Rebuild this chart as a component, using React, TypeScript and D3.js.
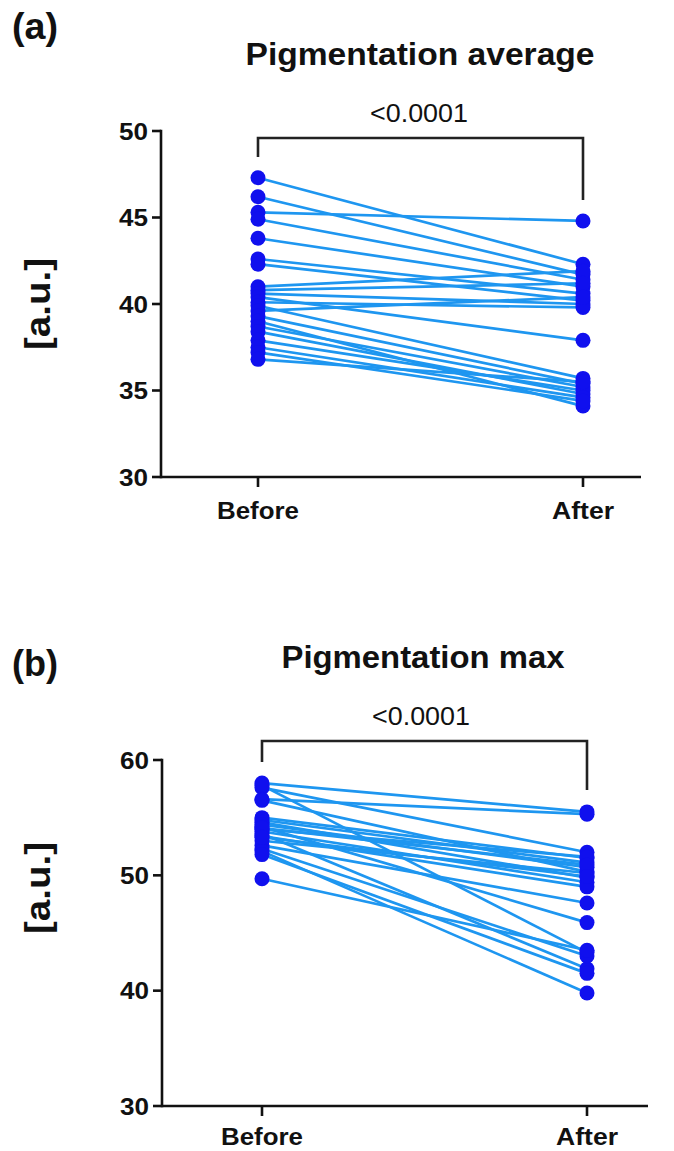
import React from "react";
import * as d3 from "d3";

// ---------- data ----------
const categories = ["Before", "After"];

const avgBefore = [47.3, 46.2, 45.3, 44.9, 43.8, 42.6, 42.3, 41.0, 40.8, 40.6, 40.4, 40.1, 39.9, 39.6, 39.3, 39.0, 38.7, 38.4, 37.9, 37.5, 37.2, 36.8];
const avgAfter = [42.3, 41.7, 44.8, 41.4, 41.0, 40.6, 40.2, 41.9, 41.2, 40.0, 37.9, 39.8, 35.7, 40.4, 35.4, 34.1, 35.2, 34.8, 35.0, 34.6, 34.4, 35.5];
const avgTicks = [30, 35, 40, 45, 50];

const maxBefore = [58.0, 57.6, 57.8, 56.6, 56.5, 55.0, 54.8, 54.6, 54.4, 54.2, 54.0, 53.8, 53.6, 53.4, 53.0, 52.6, 52.3, 52.1, 51.8, 49.7, 54.1, 53.3];
const maxAfter = [55.5, 52.0, 43.3, 55.3, 50.3, 51.5, 51.1, 49.8, 50.7, 45.9, 51.6, 49.4, 41.9, 49.0, 50.2, 47.6, 43.0, 39.8, 41.5, 43.5, 50.9, 49.9];
const maxTicks = [30, 40, 50, 60];

const pLabel = "<0.0001";

const FONT = "'Liberation Sans', Arial, sans-serif";
const LINE_COLOR = "#1E96F0";
const DOT_COLOR = "#1010EE";
const AXIS_COLOR = "#111";

type PanelProps = {
  letter: string;
  letterY: number;
  title: string;
  titleX: number;
  titleY: number;
  titleLen: number;
  pX: number;
  pY: number;
  before: number[];
  after: number[];
  ticks: number[];
  domain: [number, number];
  yTop: number;
  yBottom: number;
  axisX: number;
  axisEnd: number;
  xBefore: number;
  xAfter: number;
  bracketY: number;
  bracketLeftEnd: number;
  bracketRightEnd: number;
  catY: number;
  ylabelY: number;
};

function Panel(p: PanelProps) {
  const y = d3.scaleLinear().domain(p.domain).range([p.yBottom, p.yTop]);
  const x = d3.scalePoint<string>().domain(categories).range([p.xBefore, p.xAfter]).padding(0);
  const pairs = p.before.map((b, i) => [b, p.after[i]] as [number, number]);
  const line = d3
    .line<[string, number]>()
    .x((d) => x(d[0]) as number)
    .y((d) => y(d[1]));
  const catLens: Record<string, number> = { Before: 82, After: 62 };
  return (
    <g>
      <text x={12} y={p.letterY} fontFamily={FONT} fontWeight="bold" fontSize={36} textLength={46} lengthAdjust="spacingAndGlyphs" fill="#111">
        {p.letter}
      </text>
      <text x={p.titleX} y={p.titleY} textAnchor="middle" fontFamily={FONT} fontWeight="bold" fontSize={32} textLength={p.titleLen} lengthAdjust="spacingAndGlyphs" fill="#111">
        {p.title}
      </text>
      <text x={p.pX} y={p.pY} textAnchor="middle" fontFamily={FONT} fontSize={26} textLength={98} lengthAdjust="spacingAndGlyphs" fill="#111">
        {pLabel}
      </text>
      {/* bracket */}
      <path
        d={`M${x("Before")},${p.bracketLeftEnd}V${p.bracketY}H${x("After")}V${p.bracketRightEnd}`}
        fill="none"
        stroke="#222"
        strokeWidth={2.6}
      />
      {/* y label */}
      <text
        transform={`translate(50,${p.ylabelY}) rotate(-90)`}
        textAnchor="middle"
        fontFamily={FONT}
        fontWeight="bold"
        fontSize={35}
        textLength={92}
        lengthAdjust="spacingAndGlyphs"
        fill="#111"
      >
        [a.u.]
      </text>
      {/* axes */}
      <line x1={p.axisX} x2={p.axisX} y1={y(p.domain[1]) - 1.3} y2={p.yBottom + 1.3} stroke={AXIS_COLOR} strokeWidth={2.6} />
      <line x1={p.axisX} x2={p.axisEnd} y1={p.yBottom} y2={p.yBottom} stroke={AXIS_COLOR} strokeWidth={2.6} />
      {p.ticks.map((t) => (
        <g key={t}>
          <line x1={p.axisX - 9} x2={p.axisX} y1={y(t)} y2={y(t)} stroke={AXIS_COLOR} strokeWidth={2.6} />
          <text x={p.axisX - 13} y={y(t) + 8.5} textAnchor="end" fontFamily={FONT} fontWeight="bold" fontSize={24} textLength={29} lengthAdjust="spacingAndGlyphs" fill="#111">
            {t}
          </text>
        </g>
      ))}
      {categories.map((c) => (
        <g key={c}>
          <line x1={x(c)} x2={x(c)} y1={p.yBottom} y2={p.yBottom + 10} stroke={AXIS_COLOR} strokeWidth={2.6} />
          <text x={x(c)} y={p.catY} textAnchor="middle" fontFamily={FONT} fontWeight="bold" fontSize={24} textLength={catLens[c]} lengthAdjust="spacingAndGlyphs" fill="#111">
            {c}
          </text>
        </g>
      ))}
      {/* lines */}
      {pairs.map((pr, i) => (
        <path
          key={"l" + i}
          d={line([
            ["Before", pr[0]],
            ["After", pr[1]],
          ]) as string}
          fill="none"
          stroke={LINE_COLOR}
          strokeWidth={2.7}
        />
      ))}
      {/* dots */}
      {pairs.map((pr, i) => (
        <g key={"d" + i}>
          <circle cx={x("Before")} cy={y(pr[0])} r={7.5} fill={DOT_COLOR} />
          <circle cx={x("After")} cy={y(pr[1])} r={7.5} fill={DOT_COLOR} />
        </g>
      ))}
    </g>
  );
}

export default function App() {
  return (
    <svg width={674} height={1151} style={{ position: "absolute", left: 0, top: 0, background: "#fff" }}>
      <rect width={674} height={1151} fill="#fff" />
      <Panel
        letter="(a)"
        letterY={39}
        title="Pigmentation average"
        titleX={420}
        titleY={65}
        titleLen={349}
        pX={419}
        pY={122}
        before={avgBefore}
        after={avgAfter}
        ticks={avgTicks}
        domain={[30, 50]}
        yTop={131}
        yBottom={477}
        axisX={161}
        axisEnd={641}
        xBefore={258}
        xAfter={583}
        bracketY={138}
        bracketLeftEnd={157}
        bracketRightEnd={200}
        catY={519}
        ylabelY={304}
      />
      <Panel
        letter="(b)"
        letterY={676}
        title="Pigmentation max"
        titleX={423}
        titleY={668}
        titleLen={283}
        pX={421}
        pY={725}
        before={maxBefore}
        after={maxAfter}
        ticks={maxTicks}
        domain={[30, 60]}
        yTop={760}
        yBottom={1106}
        axisX={162}
        axisEnd={648}
        xBefore={262}
        xAfter={587}
        bracketY={741}
        bracketLeftEnd={762}
        bracketRightEnd={790}
        catY={1145}
        ylabelY={888}
      />
    </svg>
  );
}
